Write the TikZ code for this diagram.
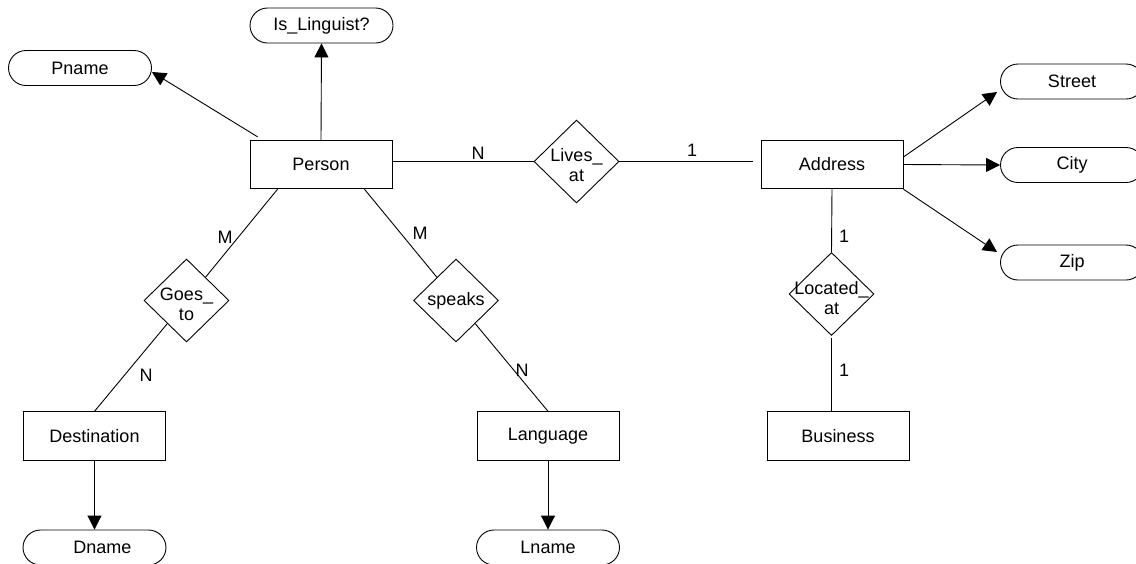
\documentclass[tikz,border=0pt]{standalone}
\usepackage{fontspec}
\setmainfont{Liberation Sans}
\usetikzlibrary{shapes.geometric,arrows.meta,calc}
\begin{document}
\begin{tikzpicture}[x=1pt,y=-1pt,
  line width=0.9pt,
  every node/.style={font=\fontsize{18}{20}\selectfont},
  entity/.style={draw, rectangle, minimum width=142pt, minimum height=48.5pt, inner sep=0pt},
  attr/.style={draw, rectangle, rounded corners=17.5pt, minimum width=143pt, minimum height=35pt, inner sep=0pt},
  rel/.style={draw, diamond, minimum width=85pt, minimum height=83pt, inner sep=0pt},
  reltext/.style={align=center, inner sep=0pt},
  arr/.style={-{Triangle[length=14pt,width=14pt]}}]
\useasboundingbox (0,0) rectangle (1136,563);

% entities
\node[entity] (person) at (321,164.5) {Person};
\node[entity] (addr)   at (832,164.5) {Address};
\node[entity] (dest)   at (94.5,436)  {Destination};
\node[entity] (lang)   at (548,436)   {Language};
\node[entity] (bus)    at (838,436)   {Business};

% attributes
\node[attr] (isl)    at (321.5,25.5) {Is\_Linguist?};
\node[attr] (pname)  at (80,68)      {Pname};
\node[attr] (street) at (1072,81.5)  {Street};
\node[attr] (city)   at (1072,165)   {City};
\node[attr] (zip)    at (1072,262.5) {Zip};
\node[attr] (dname)  at (94.5,547.5) {\hspace*{16pt}Dname};
\node[attr] (lname)  at (548,547.5)  {Lname};

% relationships
\node[rel, label={[reltext,yshift=-4pt]center:{Lives\_\\at}}]   (lives)  at (576.5,161.5) {};
\node[rel, label={[reltext,yshift=-4pt]center:{Goes\_\\to}}]    (goes)   at (186.5,300.5) {};
\node[rel, label={[reltext]center:{speaks}}]                    (speaks) at (456,300.5)   {};
\node[rel, label={[reltext,yshift=-4pt]center:{Located\_\\at}}] (loc)    at (831.5,294)   {};

% attribute arrows
\draw[arr] (person.north) -- (isl.south);
\draw[arr] ([xshift=8pt,yshift=3pt]person.north west) -- ([yshift=-4pt]pname.east);
\draw[arr] ([yshift=7.5pt]addr.east) -- ([xshift=-3pt,yshift=-10.5pt]street.west);
\draw[arr] (addr.east) -- (city.west);
\draw[arr] (addr.south east) -- ([xshift=-3pt,yshift=10.5pt]zip.west);
\draw[arr] (dest.south) -- (dname.north);
\draw[arr] (lang.south) -- (lname.north);

% relationship lines
\draw (lives.west -| person.east) -- (lives.west);
\draw (lives.east) -- ([xshift=-8pt]lives.east -| addr.west);
\draw ([xshift=28pt]person.south west) -- (goes);
\draw (goes) -- (dest.north);
\draw ([xshift=-28pt]person.south east) -- (speaks);
\draw (speaks) -- (lang.north);
\draw (addr.south) -- (loc.north);
\draw ([yshift=-2pt]loc.south) -- (loc.south |- bus.north);

% cardinalities
\node (cPL) at (478,153) {N};
\node (cLA) at (692,150) {1};
\node (cPG) at (225,237) {M};
\node (cGD) at (146,375) {N};
\node (cPS) at (420,233) {M};
\node (cSL) at (522,370) {N};
\node (cAL) at (844,236) {1};
\node (cLB) at (844,370) {1};
\end{tikzpicture}
\end{document}
